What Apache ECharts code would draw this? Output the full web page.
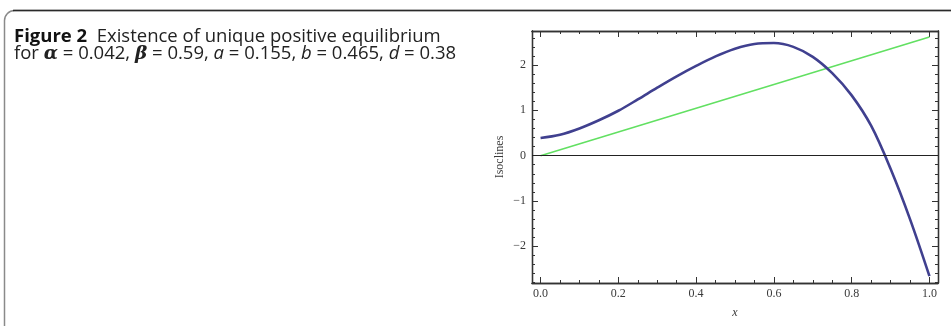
<!DOCTYPE html>
<html>
<head>
<meta charset="utf-8">
<script src="https://cdn.jsdelivr.net/npm/echarts@6/dist/echarts.min.js"></script>
<style>
html,body{margin:0;padding:0;background:#fff;}
#chart{width:951px;height:326px;}
</style>
</head>
<body>
<div id="chart"></div>
<script>
// ---- data ----
const curveX = [0.00, 0.05, 0.10, 0.15, 0.20, 0.25, 0.30, 0.35, 0.40, 0.45, 0.50, 0.55, 0.60, 0.65, 0.70, 0.75, 0.80, 0.85, 0.90, 0.95, 1.00];
const curveY = [0.39, 0.46, 0.60, 0.78, 0.99, 1.24, 1.50, 1.75, 1.98, 2.19, 2.36, 2.465, 2.485, 2.40, 2.18, 1.82, 1.33, 0.66, -0.29, -1.40, -2.66];
const lineX = [0.0, 1.0];
const lineY = [0.0, 2.62];
const xTickValues = [0.0, 0.2, 0.4, 0.6, 0.8, 1.0];
const yTickValues = [-2, -1, 0, 1, 2];
const xMinorTicks = [0.05,0.10,0.15,0.25,0.30,0.35,0.45,0.50,0.55,0.65,0.70,0.75,0.85,0.90,0.95];
const yMinorTicks = [-2.8,-2.6,-2.4,-2.2,-1.8,-1.6,-1.4,-1.2,-0.8,-0.6,-0.4,-0.2,0.2,0.4,0.6,0.8,1.2,1.4,1.6,1.8,2.2,2.4,2.6];
const xAxisTitle = 'x';
const yAxisTitle = 'Isoclines';
const captionBold = 'Figure 2';
const captionLine1 = 'Existence of unique positive equilibrium';

const chart = echarts.init(document.getElementById('chart'), null, {renderer: 'canvas'});

const frameColor = '#333';
const labelFont = {fontFamily: 'Liberation Serif', fontSize: 12, color: '#3a3a3a'};
const XMIN = -0.022, XMAX = 1.022, YMIN = -2.81, YMAX = 2.75;

function xAx(pos, ticks, len, labels, extra) {
  return Object.assign({
    type: 'value', position: pos, min: XMIN, max: XMAX,
    axisLine: {show: true, onZero: false, lineStyle: {color: frameColor, width: 1.3}},
    axisTick: {show: true, inside: true, length: len, customValues: ticks, lineStyle: {color: frameColor, width: 1}},
    axisLabel: labels ? Object.assign({show: true, customValues: ticks, margin: 5, formatter: v => v.toFixed(1)}, labelFont) : {show: false},
    splitLine: {show: false}
  }, extra || {});
}
function yAx(pos, ticks, len, labels, extra) {
  return Object.assign({
    type: 'value', position: pos, min: YMIN, max: YMAX,
    axisLine: {show: true, onZero: false, lineStyle: {color: frameColor, width: 1.3}},
    axisTick: {show: true, inside: true, length: len, customValues: ticks, lineStyle: {color: frameColor, width: 1}},
    axisLabel: labels ? Object.assign({show: true, customValues: ticks, margin: 6, formatter: v => (v < 0 ? '\u2212' + Math.abs(v) : String(v))}, labelFont) : {show: false},
    splitLine: {show: false}
  }, extra || {});
}

const option = {
  animation: false,
  backgroundColor: '#fff',
  grid: {left: 532, top: 31, right: 13, bottom: 43, outerBoundsMode: 'none', containLabel: false},
  xAxis: [
    xAx('bottom', xTickValues, 6, true, {name: xAxisTitle, nameLocation: 'middle', nameGap: 24,
      nameTextStyle: {fontFamily: 'Liberation Serif', fontStyle: 'italic', fontSize: 12, color: '#3a3a3a'}}),
    xAx('bottom', xMinorTicks, 3, false),
    xAx('top', xTickValues, 6, false),
    xAx('top', xMinorTicks, 3, false)
  ],
  yAxis: [
    yAx('left', yTickValues, 6, true, {name: yAxisTitle, nameLocation: 'middle', nameGap: 26, nameRotate: 90,
      nameTextStyle: {fontFamily: 'Liberation Serif', fontSize: 12, color: '#3a3a3a'}}),
    yAx('left', yMinorTicks, 3, false),
    yAx('right', yTickValues, 6, false),
    yAx('right', yMinorTicks, 3, false)
  ],
  series: [
    {
      type: 'line', xAxisIndex: 0, yAxisIndex: 0,
      data: lineX.map((x, i) => [x, lineY[i]]),
      showSymbol: false, silent: true,
      lineStyle: {color: '#62e062', width: 1.6},
      markLine: {
        silent: true, symbol: 'none', label: {show: false},
        lineStyle: {color: '#222', width: 1.2, type: 'solid'},
        data: [{yAxis: 0}]
      },
      z: 2
    },
    {
      type: 'line', xAxisIndex: 0, yAxisIndex: 0,
      data: curveX.map((x, i) => [x, curveY[i]]),
      showSymbol: false, silent: true, smooth: 0.35,
      lineStyle: {color: '#40408f', width: 2.6},
      z: 3
    }
  ],
  graphic: [
    {type: 'rect', shape: {x: 4.5, y: 10.5, width: 1200, height: 600, r: 10}, style: {fill: 'none', stroke: '#8a8a8a', lineWidth: 1.5}, silent: true},
    {type: 'line', shape: {x1: 13, y1: 10.5, x2: 951, y2: 10.5}, style: {stroke: '#2a2a2a', lineWidth: 1.4}, silent: true},
    {
      type: 'text', left: 14, top: 27, silent: true,
      style: {
        text: '{b|' + captionBold + '}{r|  ' + captionLine1 + '}\n{r|for }{g|\u03b1}{r| = 0.042, }{g|\u03b2}{r| = 0.59, }{i|a}{r| = 0.155, }{i|b}{r| = 0.465, }{i|d}{r| = 0.38}',
        rich: {
          b: {fontFamily: 'Open Sans', fontWeight: 'bold', fontSize: 18.5, fill: '#111', lineHeight: 17.5},
          r: {fontFamily: 'Open Sans', fontSize: 18.5, fill: '#222', lineHeight: 17.5},
          g: {fontFamily: 'DejaVu Serif', fontStyle: 'italic', fontWeight: 'bold', fontSize: 18.5, fill: '#222', lineHeight: 17.5},
          i: {fontFamily: 'Open Sans', fontStyle: 'italic', fontSize: 18.5, fill: '#222', lineHeight: 17.5}
        }
      }
    }
  ]
};
chart.setOption(option);
</script>
</body>
</html>
